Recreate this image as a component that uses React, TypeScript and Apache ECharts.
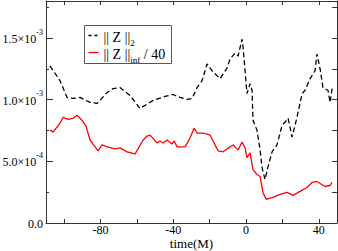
import React, { useEffect, useRef } from "react";
import * as echarts from "echarts";

// ||Z||_2 (black dashed)
const tBlack = [-107.8, -102.3, -98.4, -95.1, -91.3, -85.8, -81.9, -80.3, -76.4, -73.1, -69.3, -63.8, -58.3, -51.1, -44.5, -40.1, -36.3, -32.4, -29.7, -26.9, -24.2, -21.4, -18.7, -14.3, -10.4, -8.8, -6.0, -4.4, -2.2, -1.6, 0.5, 2.2, 3.3, 3.8, 6.0, 7.7, 8.8, 10.4, 12.1, 14.3, 17.0, 19.8, 21.4, 23.1, 25.3, 28.0, 30.8, 32.4, 35.2, 37.9, 39.0, 40.7, 42.3, 45.1, 46.2, 47.3];
const zBlack = [1.274, 1.154, 1.018, 1.010, 1.018, 0.978, 0.970, 0.994, 1.058, 1.090, 1.098, 1.034, 0.929, 0.994, 1.026, 1.042, 1.018, 1.002, 1.010, 1.098, 1.154, 1.290, 1.234, 1.170, 1.258, 1.330, 1.378, 1.354, 1.490, 1.418, 1.050, 1.130, 1.074, 0.833, 0.753, 0.593, 0.449, 0.353, 0.457, 0.577, 0.633, 0.793, 0.817, 0.849, 0.697, 0.857, 1.050, 1.074, 1.170, 1.234, 1.370, 1.250, 1.098, 1.074, 0.978, 1.090];

// ||Z||_inf / 40 (red)
const tRed = [-107.8, -106.1, -102.3, -100.6, -97.9, -95.1, -92.9, -90.2, -88.0, -85.8, -83.0, -81.4, -79.2, -76.4, -72.0, -69.3, -65.4, -61.0, -56.6, -54.4, -52.8, -48.9, -47.3, -45.6, -43.4, -40.7, -39.6, -37.9, -33.5, -30.8, -28.6, -26.9, -23.6, -19.8, -15.4, -12.6, -8.8, -7.1, -4.4, -2.2, -0.5, 0.5, 2.2, 3.8, 6.0, 7.7, 9.3, 11.0, 14.8, 18.7, 22.5, 25.8, 29.7, 33.5, 36.3, 39.0, 43.4, 46.2, 47.3];
const zRed = [0.753, 0.737, 0.809, 0.857, 0.841, 0.849, 0.873, 0.833, 0.785, 0.673, 0.617, 0.585, 0.633, 0.617, 0.601, 0.609, 0.577, 0.561, 0.673, 0.705, 0.713, 0.649, 0.665, 0.649, 0.673, 0.641, 0.665, 0.617, 0.617, 0.689, 0.769, 0.729, 0.729, 0.713, 0.585, 0.577, 0.617, 0.633, 0.593, 0.657, 0.609, 0.529, 0.569, 0.433, 0.393, 0.377, 0.248, 0.192, 0.208, 0.232, 0.248, 0.224, 0.256, 0.288, 0.329, 0.337, 0.296, 0.304, 0.329];

const xTickValues = [-100, -80, -60, -40, -20, 0, 20, 40];
const xLabelValues = [-80, -40, 0, 40];
const yLabelValues = [0, 5e-4, 1e-3, 1.5e-3];
const yMajorTicks = [5e-4, 1e-3, 1.5e-3];

const SERIF = "Liberation Serif";
const AXIS_COLOR = "#333";

function yLabel(v: number): string {
  if (v === 0) return "{m|0.0}";
  const e = Math.floor(Math.log10(v) + 1e-9);
  const m = v / Math.pow(10, e);
  return `{m|${m.toFixed(1)}×10}{e|${e}}`;
}

export default function App() {
  const ref = useRef<HTMLDivElement>(null);
  useEffect(() => {
    if (!ref.current) return;
    const chart = echarts.init(ref.current, null, { renderer: "svg" });
    const blackData = tBlack.map((t, i) => [t, zBlack[i] * 1e-3]);
    const redData = tRed.map((t, i) => [t, zRed[i] * 1e-3]);
    const line = { show: true, onZero: false, lineStyle: { color: AXIS_COLOR, width: 1 } };
    chart.setOption({
      animation: false,
      backgroundColor: "#fff",
      textStyle: { fontFamily: SERIF, fontWeight: "normal" },
      grid: { left: 46, right: 1, top: 1, bottom: 28, containLabel: false, outerBoundsMode: "none" },
      xAxis: [
        {
          type: "value",
          min: -110,
          max: 50,
          position: "bottom",
          name: "time(M)",
          nameLocation: "middle",
          nameGap: 13.5,
          nameMoveOverlap: false,
          nameTextStyle: { fontFamily: SERIF, fontSize: 13, lineHeight: 14, fontWeight: "normal", color: "#000" },
          axisLine: line,
          axisTick: { show: true, inside: true, length: 4, customValues: xTickValues, lineStyle: { color: AXIS_COLOR } },
          axisLabel: { show: true, customValues: xLabelValues, margin: 0, lineHeight: 13, fontFamily: SERIF, fontWeight: "normal", fontSize: 12, color: "#000" },
          splitLine: { show: false },
        },
        {
          type: "value",
          min: -110,
          max: 50,
          position: "top",
          axisLine: line,
          axisTick: { show: true, inside: true, length: 4, customValues: xTickValues, lineStyle: { color: AXIS_COLOR } },
          axisLabel: { show: false },
          splitLine: { show: false },
        },
      ],
      yAxis: [
        {
          type: "value",
          min: 0,
          max: 1.8e-3,
          interval: 2.5e-4,
          position: "left",
          axisLine: line,
          axisTick: { show: true, inside: true, length: 3, lineStyle: { color: AXIS_COLOR } },
          axisLabel: {
            show: true,
            customValues: yLabelValues,
            margin: 3,
            formatter: (v: number) => yLabel(v),
            rich: {
              m: { fontFamily: SERIF, fontWeight: "normal", fontSize: 12, color: "#000", lineHeight: 14, verticalAlign: "bottom" },
              e: { fontFamily: SERIF, fontWeight: "normal", fontSize: 8, color: "#000", lineHeight: 14, verticalAlign: "top", padding: [-3, 0, 0, 0] },
            },
          },
          splitLine: { show: false },
        },
        {
          type: "value",
          min: 0,
          max: 1.8e-3,
          position: "left",
          axisLine: { show: false, onZero: false },
          axisTick: { show: true, inside: true, length: 7, customValues: yMajorTicks, lineStyle: { color: AXIS_COLOR } },
          axisLabel: { show: false },
          splitLine: { show: false },
        },
        {
          type: "value",
          min: 0,
          max: 1.8e-3,
          interval: 2.5e-4,
          position: "right",
          axisLine: line,
          axisTick: { show: true, inside: true, length: 5, lineStyle: { color: AXIS_COLOR } },
          axisLabel: { show: false },
          splitLine: { show: false },
        },
      ],
      series: [
        {
          name: "||Z||_2",
          type: "line",
          xAxisIndex: 0,
          yAxisIndex: 0,
          data: blackData,
          showSymbol: false,
          symbol: "none",
          lineStyle: { color: "#000", width: 1.3, type: [5, 3] },
        },
        {
          name: "||Z||_inf / 40",
          type: "line",
          xAxisIndex: 0,
          yAxisIndex: 0,
          data: redData,
          showSymbol: false,
          symbol: "none",
          lineStyle: { color: "#ff0000", width: 1.3 },
        },
      ],
      graphic: [
        {
          type: "group",
          left: 84,
          top: 25,
          z: 10,
          children: [
            { type: "rect", shape: { x: 0, y: 0, width: 87, height: 38 }, style: { fill: "#fff", stroke: "#555", lineWidth: 1 } },
            { type: "line", shape: { x1: 4, y1: 10, x2: 14, y2: 10 }, style: { stroke: "#000", lineWidth: 1.3, lineDash: [3, 3] } },
            {
              type: "text",
              x: 19,
              y: 3,
              style: {
                text: "{a||| Z ||}{s|2}",
                rich: {
                  a: { fontFamily: SERIF, fontWeight: "normal", fontSize: 14, fill: "#000", lineHeight: 16, verticalAlign: "bottom" },
                  s: { fontFamily: SERIF, fontWeight: "normal", fontSize: 9, fill: "#000", lineHeight: 16, verticalAlign: "bottom", padding: [0, 0, -3, 0] },
                },
              },
            },
            { type: "line", shape: { x1: 4, y1: 27, x2: 14, y2: 27 }, style: { stroke: "#ff0000", lineWidth: 1.3 } },
            {
              type: "text",
              x: 19,
              y: 20,
              style: {
                text: "{a||| Z ||}{s|inf}{a| / 40}",
                rich: {
                  a: { fontFamily: SERIF, fontWeight: "normal", fontSize: 14, fill: "#000", lineHeight: 16, verticalAlign: "bottom" },
                  s: { fontFamily: SERIF, fontWeight: "normal", fontSize: 9, fill: "#000", lineHeight: 16, verticalAlign: "bottom", padding: [0, 0, -3, 0] },
                },
              },
            },
          ],
        },
      ],
    });
    return () => chart.dispose();
  }, []);
  return <div ref={ref} style={{ width: 338, height: 251, position: "absolute", left: 0, top: 0 }} />;
}
